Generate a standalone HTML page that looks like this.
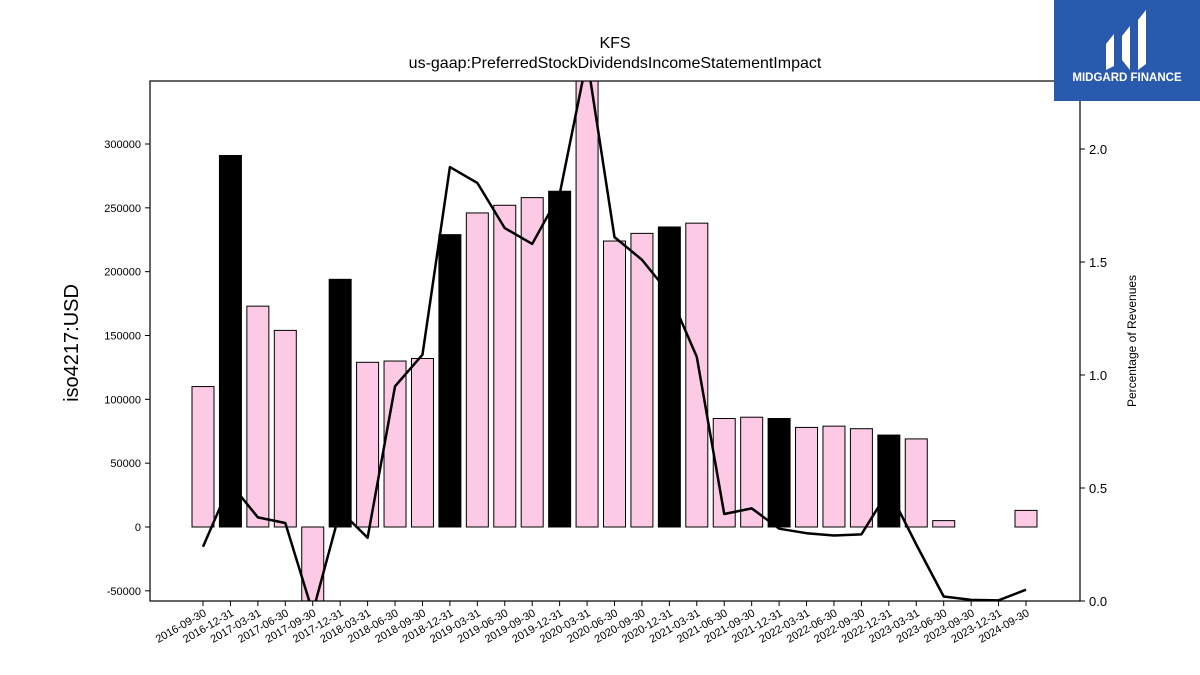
<!DOCTYPE html>
<html><head><meta charset="utf-8">
<style>
body{margin:0;background:#fff;font-family:"Liberation Sans","DejaVu Sans",sans-serif;}
#wrap{position:relative;width:1200px;height:675px;overflow:hidden;}
#logo{position:absolute;left:1054px;top:0;width:146px;height:101px;background:#2a5aad;}
</style></head>
<body>
<div id="wrap">
<svg id="chart" width="1200" height="675"></svg>
<div id="logo">
<svg width="146" height="101">
<path d="M52 44 L60 34 L60 66 L52 70 Z" fill="#fff"/>
<path d="M68 36 L76 26 L76 70 L68 60 Z" fill="#fff"/>
<path d="M84 20 L92 10 L92 64 L84 70 Z" fill="#fff"/>
<text x="73" y="81" text-anchor="middle" font-size="11.5" font-weight="bold" fill="#fff" font-family="Liberation Sans, sans-serif">MIDGARD FINANCE</text>
</svg></div>
</div>
<script>
const categories=["2016-09-30","2016-12-31","2017-03-31","2017-06-30","2017-09-30","2017-12-31","2018-03-31","2018-06-30","2018-09-30","2018-12-31","2019-03-31","2019-06-30","2019-09-30","2019-12-31","2020-03-31","2020-06-30","2020-09-30","2020-12-31","2021-03-31","2021-06-30","2021-09-30","2021-12-31","2022-03-31","2022-06-30","2022-09-30","2022-12-31","2023-03-31","2023-06-30","2023-09-30","2023-12-31","2024-09-30"];
const barValues=[110000,291000,173000,154000,-62000,194000,129000,130000,132000,229000,246000,252000,258000,263000,360000,224000,230000,235000,238000,85000,86000,85000,78000,79000,77000,72000,69000,5000,0,0,13000];
const pctValues=[0.24,0.52,0.37,0.345,-0.05,0.40,0.28,0.95,1.09,1.92,1.85,1.65,1.58,1.80,2.4,1.61,1.51,1.36,1.08,0.385,0.41,0.32,0.30,0.29,0.295,0.49,0.25,0.02,0.005,0.003,0.05];
const leftTicks=[-50000,0,50000,100000,150000,200000,250000,300000];
const rightTicks=[0.0,0.5,1.0,1.5,2.0];

const svg=document.getElementById('chart');
const NS='http://www.w3.org/2000/svg';
const L=150,R=1080,T=81,B=601;
const yL=v=>527-v*(383/300000);
const yR=v=>601-v*226;
const xC=i=>203+i*(823/30);
function mk(tag,attrs,parent){const e=document.createElementNS(NS,tag);for(const k in attrs)e.setAttribute(k,attrs[k]);(parent||svg).appendChild(e);return e;}

const defs=mk('defs',{});
const cp=mk('clipPath',{id:'clip'},defs);
mk('rect',{x:L,y:T,width:R-L,height:B-T},cp);
const g=mk('g',{'clip-path':'url(#clip)'});



barValues.forEach((v,i)=>{
  const y0=yL(0),y1=yL(v);
  const r=mk('rect',{x:xC(i)-11,y:Math.min(y0,y1),width:22,height:Math.abs(y1-y0),fill:(i%4===1)?'#000':'#fccae4',stroke:'#000','stroke-width':1},g);
  
  
});
const pts=pctValues.map((v,i)=>xC(i)+','+yR(v)).join(' ');
const line=mk('polyline',{points:pts,fill:'none',stroke:'#000','stroke-width':2.5,'stroke-linejoin':'round'},g);



const frame=mk('rect',{x:L,y:T,width:R-L,height:B-T,fill:'none',stroke:'#000','stroke-width':1.2});



leftTicks.forEach(t=>{
  const y=yL(t);
  mk('line',{x1:L-5,x2:L,y1:y,y2:y,stroke:'#000'});
  const tx=mk('text',{x:L-9,y:y+4,'text-anchor':'end','font-size':11});
  tx.textContent=t;
  
  
});
rightTicks.forEach(t=>{
  const y=yR(t);
  mk('line',{x1:R,x2:R+5,y1:y,y2:y,stroke:'#000'});
  const tx=mk('text',{x:R+9,y:y+5,'font-size':13});
  tx.textContent=t.toFixed(1);
  
  
});
categories.forEach((c,i)=>{
  const x=xC(i);
  mk('line',{x1:x,x2:x,y1:B,y2:B+5,stroke:'#000'});
  const tx=mk('text',{x:x+4,y:B+14,'text-anchor':'end','font-size':11,transform:`rotate(-30 ${x+4} ${B+14})`});
  tx.textContent=c;
  
  
});
let t1=mk('text',{x:615,y:48,'text-anchor':'middle','font-size':16});t1.textContent='KFS';


let t2=mk('text',{x:615,y:68,'text-anchor':'middle','font-size':16});t2.textContent='us-gaap:PreferredStockDividendsIncomeStatementImpact';


let yl=mk('text',{x:78,y:343,'text-anchor':'middle','font-size':20,transform:'rotate(-90 78 343)'});yl.textContent='iso4217:USD';


let yr=mk('text',{x:1136,y:341,'text-anchor':'middle','font-size':12,transform:'rotate(-90 1136 341)'});yr.textContent='Percentage of Revenues';


</script>
</body></html>
